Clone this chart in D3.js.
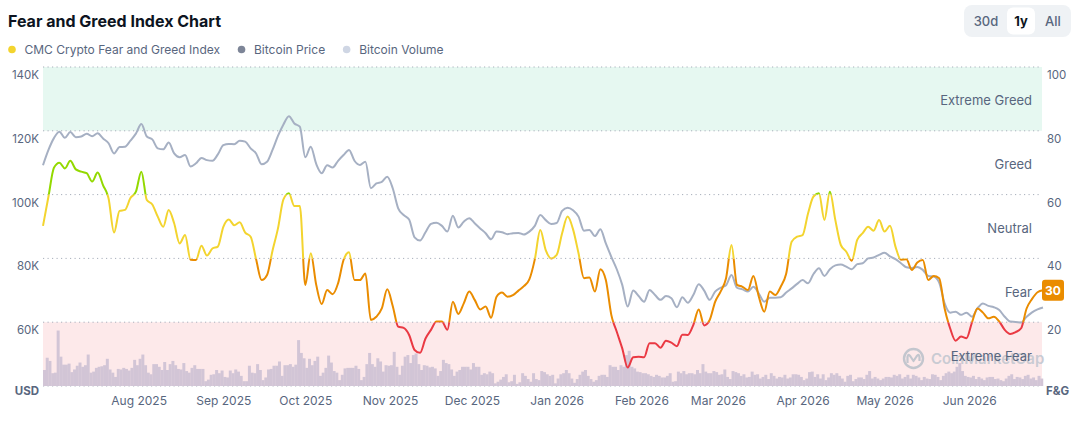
<!DOCTYPE html>
<html><head><meta charset="utf-8">
<script src="https://cdn.jsdelivr.net/npm/d3@7"></script>
<style>
body{margin:0;background:#fff;}
svg{display:block;font-family:Inter,"Noto Sans",sans-serif;}
</style>
</head><body>
<svg id="chart" width="1085" height="434"></svg>
<script>
// ---------------- data ----------------
const START_DATE = "2025-06-27";
const LINE_STEP_DAYS = 2;   // fear & greed / price sampled every 2 days
const VOLUME_STEP_DAYS = 1; // volume is daily

const fearGreed = [
50.2,59.4,68.4,70.0,68.2,70.6,67.9,67.2,66.7,64.1,66.9,62.9,58.8,48.1,54.9,55.2,58.9,60.9,67.2,58.3,56.9,53.1,49.9,55.2,51.0,44.7,47.3,39.6,39.5,44.0,40.9,43.1,43.7,49.9,52.2,50.4,51.3,48.1,
46.8,39.7,33.2,34.8,42.4,49.4,58.5,60.4,56.4,56.4,31.7,41.6,31.7,25.7,30.1,28.8,32.2,39.5,41.9,33.2,33.2,35.3,20.7,21.7,24.3,30.3,25.1,18.6,18.2,16.0,11.3,10.4,14.9,17.6,20.2,20.2,17.6,26.4,
22.6,25.9,29.6,27.0,24.0,24.9,21.4,28.0,29.3,28.0,28.5,29.9,31.3,33.4,39.7,48.9,42.6,40.0,41.1,47.9,53.1,49.1,41.6,33.8,34.0,29.6,36.6,33.2,22.3,17.0,11.8,5.8,9.0,9.2,9.0,13.4,13.4,
12.0,14.2,13.6,12.5,16.1,16.0,19.1,24.0,19.0,20.7,26.4,29.6,33.8,44.2,31.7,31.1,30.1,34.5,28.0,23.3,29.6,28.5,31.1,35.2,45.2,46.8,47.3,54.1,59.4,60.4,52.0,60.9,52.0,44.2,42.1,39.3,45.8,
47.9,49.9,48.7,52.0,48.4,50.2,43.7,39.6,39.7,36.4,38.7,39.5,33.2,34.5,33.8,24.3,18.1,14.2,15.5,15.0,19.9,24.3,23.0,21.2,21.7,20.2,17.6,16.3,16.9,18.1,24.3,27.3,29.4,30
];

// Bitcoin price, thousand USD
const btcPrice = [
109.2,114.0,117.7,119.7,117.8,119.6,118.0,118.2,119.1,118.3,119.2,117.6,116.1,112.9,114.9,115.0,116.9,119.1,122.1,118.2,117.3,114.5,114.2,116.3,112.9,111.7,112.4,108.8,109.8,111.5,110.8,110.6,112.6,115.5,115.9,115.8,116.9,116.6,
114.5,112.9,109.5,110.3,114.0,118.4,122.0,124.6,122.3,121.3,111.7,115.0,109.6,106.7,109.2,108.5,110.6,112.4,114.0,110.6,109.3,110.3,102.0,103.5,104.0,105.6,102.0,95.7,93.6,92.2,86.6,85.6,88.2,90.8,91.2,90.2,88.4,93.4,
89.7,91.5,92.6,91.0,89.4,87.9,86.0,88.4,88.2,87.6,87.9,88.0,87.5,88.4,90.2,93.6,92.0,90.8,91.1,94.9,95.9,95.1,93.1,88.7,88.9,87.0,89.1,84.7,80.5,76.6,71.7,64.9,69.9,68.2,66.4,70.1,68.5,
67.0,68.2,67.5,64.7,67.8,66.1,68.5,71.9,69.9,67.0,69.6,70.8,71.6,74.8,70.8,70.3,69.6,71.1,69.0,66.4,67.7,67.7,67.8,69.3,70.6,72.0,73.2,72.2,75.1,76.9,74.5,76.6,77.8,78.1,77.4,76.6,78.2,
78.5,80.0,80.3,81.1,81.8,80.6,79.8,78.5,77.2,77.0,77.3,76.4,74.5,74.3,72.4,65.9,63.0,63.3,62.3,63.0,61.7,64.3,65.9,65.1,64.7,63.8,61.7,60.2,60.1,59.9,61.7,63.1,64.0,64.6
];

// Bitcoin volume, billion USD (daily)
const btcVolume = [
30,53,47,24,25,104,55,40,40,42,26,31,38,44,36,39,59,25,27,34,36,37,39,51,31,25,17,32,31,34,32,29,34,49,39,51,59,39,25,22,
41,41,36,30,45,30,41,47,39,32,31,43,28,25,34,39,32,32,32,9,12,21,22,30,24,29,17,16,29,24,31,27,19,9,9,38,25,24,41,30,
11,16,31,32,38,38,46,19,39,39,41,36,40,86,62,52,34,51,39,47,55,19,25,34,57,44,28,25,11,21,33,34,34,34,38,32,11,17,41,62,
41,36,52,46,
27,39,38,39,64,36,21,38,55,58,43,58,61,41,30,39,38,35,36,33,19,28,49,43,41,31,19,27,30,36,36,36,31,43,36,36,21,24,22,27,
24,5,8,12,17,22,7,9,21,4,7,24,19,13,8,24,13,11,28,26,22,19,21,5,14,22,24,30,24,14,6,13,21,27,30,19,13,8,11,19,
21,21,17,39,36,36,30,39,36,58,66,36,33,27,26,24,24,22,19,17,21,19,16,16,19,24,8,9,27,24,28,22,24,24,22,30,24,41,27,24,24,
28,26,21,22,31,17,13,28,26,24,19,22,16,17,27,21,22,14,17,21,13,24,19,14,17,16,21,14,16,22,22,21,17,11,14,26,27,17,22,14,
22,11,16,24,21,24,19,14,8,19,21,9,13,16,16,13,21,28,14,17,14,11,14,17,17,16,21,19,22,14,17,21,14,21,19,16,11,17,14,13,
22,21,17,11,19,24,27,24,27,36,43,28,19,17,16,19,13,17,14,11,16,17,17,13,14,11,9,14,19,22,13,17,16,13,19,21,14,16,11,19,14
];

const zones = [
  {name:"Extreme Fear", lo:0, hi:20},
  {name:"Fear", lo:20, hi:40},
  {name:"Neutral", lo:40, hi:60},
  {name:"Greed", lo:60, hi:80},
  {name:"Extreme Greed", lo:80, hi:100}
];
const monthTicks = ["2025-08-01","2025-09-01","2025-10-01","2025-11-01","2025-12-01","2026-01-01","2026-02-01","2026-03-01","2026-04-01","2026-05-01","2026-06-01"];
const priceTicks = [60,80,100,120,140];
const fngTicks = [20,40,60,80,100];
const legendItems = ["CMC Crypto Fear and Greed Index","Bitcoin Price","Bitcoin Volume"];
const rangeButtons = ["30d","1y","All"];
const titleText = "Fear and Greed Index Chart";

// ---------------- styles ----------------
const zoneColor = {"Extreme Fear":"#ea3943","Fear":"#ea8c00","Neutral":"#f3d42f","Greed":"#93d900","Extreme Greed":"#16c784"};
const zoneFill = {"Extreme Fear":"#fde9ea","Extreme Greed":"#e6f8f1"};
const legendColors = ["#f3d42f","#7d8597","#cfd6e4"];
const TXT = "#58667e";

const L = 43, R = 1043, T = 67, B = 386;
const start = d3.timeParse("%Y-%m-%d")(START_DATE);
const lineDates = fearGreed.map((_, i) => d3.timeDay.offset(start, i * LINE_STEP_DAYS));
const volDates = btcVolume.map((_, i) => d3.timeDay.offset(start, i * VOLUME_STEP_DAYS));
const endDate = lineDates[lineDates.length - 1];

const x = d3.scaleTime().domain([start, endDate]).range([L, R]);
const yF = d3.scaleLinear().domain([0, 100]).range([B, T]);
const yP = d3.scaleLinear().domain([40, 140]).range([B, T]);
const yV = d3.scaleLinear().domain([0, 120]).range([B, B - 64]);

const svg = d3.select("#chart");

// title
svg.append("text").attr("x", 8).attr("y", 27).attr("font-size", 16).attr("font-weight", 700)
  .attr("fill", "#0d1421").text(titleText);

// legend
let lx = 12;
legendItems.forEach((name, i) => {
  svg.append("circle").attr("cx", lx).attr("cy", 49.5).attr("r", 3.8).attr("fill", legendColors[i]);
  const t = svg.append("text").attr("x", lx + 12.5).attr("y", 54).attr("font-size", 12).attr("fill", TXT).text(name);
  lx = lx + 12.5 + t.node().getComputedTextLength() + 21.5;
});

// range buttons
svg.append("rect").attr("x", 964).attr("y", 5).attr("width", 107).attr("height", 32).attr("rx", 8).attr("fill", "#eff2f5");
svg.append("rect").attr("x", 1007).attr("y", 7.5).attr("width", 28).attr("height", 27).attr("rx", 6).attr("fill", "#fff");
const btnX = [986, 1021, 1053];
rangeButtons.forEach((b, i) => {
  svg.append("text").attr("x", btnX[i]).attr("y", 25.5).attr("text-anchor", "middle").attr("font-size", 13)
    .attr("font-weight", b === "1y" ? 700 : 500).attr("fill", b === "1y" ? "#0d1421" : TXT).text(b);
});

// zone backgrounds
zones.filter(z => zoneFill[z.name]).forEach(z => {
  svg.append("rect").attr("x", L).attr("y", yF(z.hi)).attr("width", R - 1 - L).attr("height", yF(z.lo) - yF(z.hi))
    .attr("fill", zoneFill[z.name]);
});

// dotted grid lines
svg.append("g").selectAll("line").data([0].concat(fngTicks)).join("line")
  .attr("x1", L).attr("x2", R - 1).attr("y1", d => yF(d)).attr("y2", d => yF(d))
  .attr("stroke", "#a8afbb").attr("stroke-width", 1).attr("stroke-dasharray", "1.2,3.3");

// watermark
const wm = svg.append("g");
wm.append("circle").attr("cx", 913.5).attr("cy", 358.5).attr("r", 9.5).attr("fill", "none").attr("stroke", "#c3c6ce").attr("stroke-width", 2.4);
wm.append("path").attr("d", "M907.5,363 L907.5,357 Q908,353 910.5,356.5 L913.5,361 L916.5,356.5 Q919,353 919.5,357 L919.5,361")
  .attr("fill", "none").attr("stroke", "#c3c6ce").attr("stroke-width", 2.2).attr("stroke-linejoin", "round");
wm.append("text").attr("x", 931).attr("y", 364).attr("font-size", 15).attr("font-weight", 600).attr("fill", "#c9cbd3").text("CoinMarketCap");

// volume bars
svg.append("g").selectAll("rect").data(btcVolume).join("rect")
  .attr("x", (d, i) => x(volDates[i]))
  .attr("width", (d, i) => x(d3.timeDay.offset(volDates[i], 1)) - x(volDates[i]) + 0.25)
  .attr("y", d => yV(d)).attr("height", d => B - yV(d))
  .attr("fill", "#d2c5d6");

// zone labels
zones.forEach(z => {
  svg.append("text").attr("x", 1032).attr("y", yF((z.lo + z.hi) / 2) + 6.5).attr("text-anchor", "end")
    .attr("font-size", 13).attr("fill", TXT).text(z.name);
});

// price line
const priceLine = d3.line().x((d, i) => x(lineDates[i])).y(d => yP(d)).curve(d3.curveMonotoneX);
svg.append("path").datum(btcPrice).attr("d", priceLine).attr("fill", "none")
  .attr("stroke", "#a6b0c3").attr("stroke-width", 2).attr("stroke-linejoin", "round");

// fear & greed line coloured by band
const defs = svg.append("defs");
const fngLine = d3.line().x((d, i) => x(lineDates[i])).y(d => yF(d)).curve(d3.curveMonotoneX);
zones.forEach((z, i) => {
  const id = "clip" + i;
  const top = z.hi >= 100 ? 0 : yF(z.hi);
  const bot = z.lo <= 0 ? 434 : yF(z.lo);
  defs.append("clipPath").attr("id", id).append("rect").attr("x", 0).attr("width", 1085).attr("y", top).attr("height", bot - top);
  svg.append("path").datum(fearGreed).attr("d", fngLine).attr("fill", "none")
    .attr("stroke", zoneColor[z.name]).attr("stroke-width", 2).attr("stroke-linejoin", "round")
    .attr("clip-path", "url(#" + id + ")");
});

// axes
const xAxis = svg.append("g").attr("transform", "translate(0," + B + ")")
  .call(d3.axisBottom(x).tickValues(monthTicks.map(d3.timeParse("%Y-%m-%d"))).tickFormat(d3.timeFormat("%b %Y")).tickSize(0));
xAxis.select(".domain").remove();
xAxis.selectAll("text").attr("y", 19).attr("dy", 0).attr("font-size", 12).attr("font-family", "Inter").attr("fill", TXT);

const lAxis = svg.append("g").attr("transform", "translate(" + L + ",0)")
  .call(d3.axisLeft(yP).tickValues(priceTicks).tickFormat(d => d + "K").tickSize(0).tickPadding(4));
lAxis.select(".domain").remove();
lAxis.selectAll("text").attr("dy", "1em").attr("font-size", 11.5).attr("font-family", "Inter").attr("fill", TXT);

const rAxis = svg.append("g").attr("transform", "translate(" + R + ",0)")
  .call(d3.axisRight(yF).tickValues(fngTicks).tickSize(0).tickPadding(4));
rAxis.select(".domain").remove();
rAxis.selectAll("text").attr("dy", "1em").attr("font-size", 11.5).attr("font-family", "Inter").attr("fill", TXT);

svg.append("text").attr("x", 39).attr("y", 395).attr("text-anchor", "end").attr("font-size", 11.5).attr("font-weight", 700).attr("fill", TXT).text("USD");
svg.append("text").attr("x", 1046).attr("y", 395).attr("font-size", 11.5).attr("font-weight", 700).attr("fill", TXT).text("F&G");

// current value badge
const last = fearGreed[fearGreed.length - 1];
const lastZone = zones.find(z => last >= z.lo && last < z.hi);
svg.append("rect").attr("x", 1042).attr("y", yF(last) - 10.5).attr("width", 22).attr("height", 21).attr("rx", 3)
  .attr("fill", zoneColor[lastZone.name]);
svg.append("text").attr("x", 1053).attr("y", yF(last) + 4.3).attr("text-anchor", "middle").attr("font-size", 12)
  .attr("font-weight", 700).attr("fill", "#fff").text(Math.round(last));
</script>
</body></html>
